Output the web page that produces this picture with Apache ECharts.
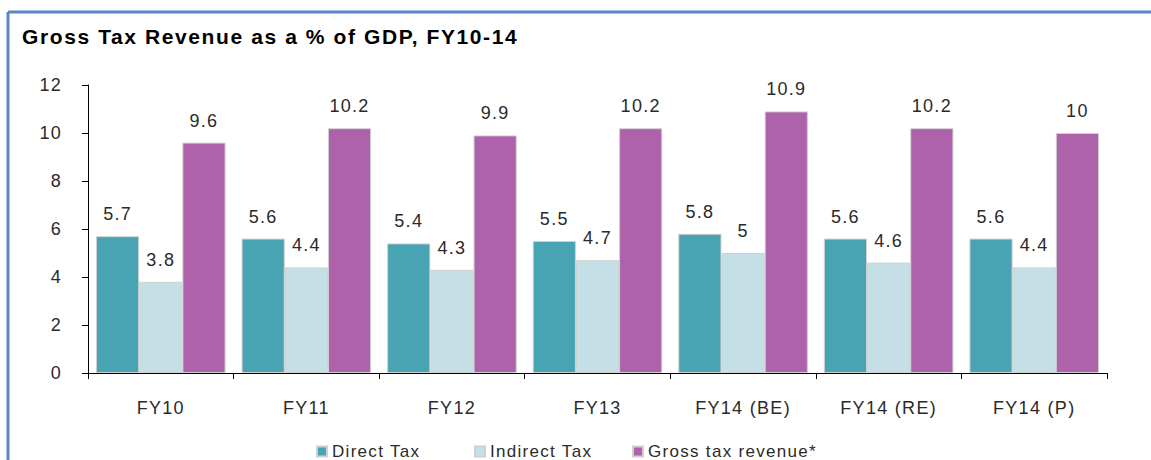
<!DOCTYPE html>
<html>
<head>
<meta charset="utf-8">
<script src="https://cdn.jsdelivr.net/npm/echarts@6/dist/echarts.min.js"></script>
<style>
html,body{margin:0;padding:0;background:#fff;}
#c{width:1151px;height:460px;}
#c svg text{letter-spacing:1.3px;}
#c svg text[style*="bold"]{letter-spacing:1.6px;}
</style>
</head>
<body>
<div id="c"></div>
<script>
var categories = ['FY10','FY11','FY12','FY13','FY14 (BE)','FY14 (RE)','FY14 (P)'];
var directTax = [5.7,5.6,5.4,5.5,5.8,5.6,5.6];
var indirectTax = [3.8,4.4,4.3,4.7,5,4.6,4.4];
var grossTax = [9.6,10.2,9.9,10.2,10.9,10.2,10];
var seriesNames = ['Direct Tax','Indirect Tax','Gross tax revenue*'];
var yTicks = [0,2,4,6,8,10,12];

var chart = echarts.init(document.getElementById('c'), null, {renderer: 'svg'});
var font = 'Liberation Sans, Arial, sans-serif';
function mk(name, data, color){
  return {
    name: name, type: 'bar', data: data, barGap: '0%', barCategoryGap: '11%',
    itemStyle: {color: color, borderColor: '#d0d0d0', borderWidth: 1},
    label: {show: true, position: 'top', distance: 13, color: '#2a2a2a', fontSize: 18, fontFamily: font},
    animation: false
  };
}
function lg(i, left, w){
  return {data: [seriesNames[i]], left: left, top: 443, padding: 0, itemWidth: 10, itemHeight: 10, itemGap: 4, icon: 'rect',
    textStyle: {fontFamily: font, fontSize: 17, color: '#2a2a2a', width: w, overflow: 'none', padding: [0, 0, 0, 0]}};
}
chart.setOption({
  animation: false,
  title: {text: 'Gross Tax Revenue as a % of GDP, FY10-14', left: 17, top: 21,
    textStyle: {fontFamily: font, fontWeight: 'bold', fontSize: 21, color: '#000'}},
  graphic: [
    {type: 'line', shape: {x1: 8, y1: 12, x2: 1151, y2: 12}, style: {stroke: '#5a86c2', lineWidth: 3}},
    {type: 'line', shape: {x1: 8, y1: 12, x2: 8, y2: 460}, style: {stroke: '#5a86c2', lineWidth: 3}}
  ],
  legend: [lg(0, 316, 100), lg(1, 474, 110), lg(2, 632, 190)],
  grid: {left: 88, right: 44, top: 85, bottom: 87},
  xAxis: {type: 'category', data: categories,
    axisLine: {lineStyle: {color: '#000', width: 1}},
    axisTick: {show: true, length: 6, inside: false, lineStyle: {color: '#000'}},
    axisLabel: {fontFamily: font, fontSize: 18, color: '#2a2a2a', margin: 26}},
  yAxis: {type: 'value', min: 0, max: 12, interval: 2,
    axisLine: {show: true, lineStyle: {color: '#000'}},
    axisTick: {show: true, length: 6, lineStyle: {color: '#000'}},
    splitLine: {show: false},
    axisLabel: {fontFamily: font, fontSize: 18, color: '#2a2a2a', margin: 26,
      formatter: function(v){ return yTicks.indexOf(v) >= 0 ? String(v) : ''; }}},
  series: [
    mk(seriesNames[0], directTax, '#48a3b2'),
    mk(seriesNames[1], indirectTax, '#c4e0e6'),
    mk(seriesNames[2], grossTax, '#ae62ab')
  ]
});
</script>
</body>
</html>
